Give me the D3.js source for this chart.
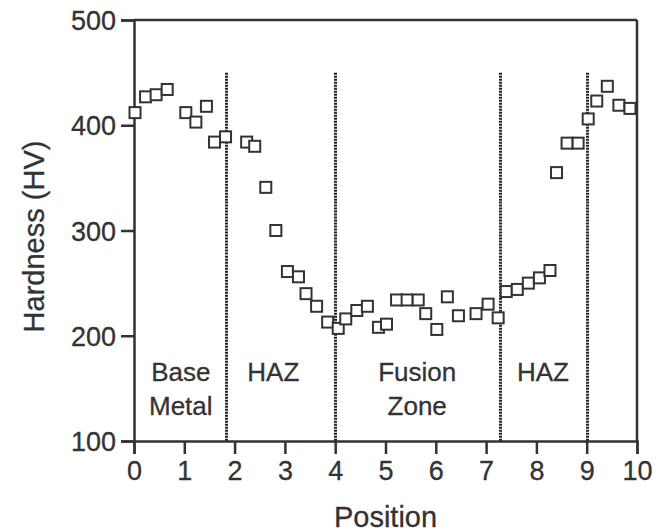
<!DOCTYPE html>
<html>
<head>
<meta charset="utf-8">
<script src="https://cdn.jsdelivr.net/npm/d3@7"></script>
<style>
  body { margin: 0; background: #fff; }
  svg text { font-family: "Liberation Sans", Arial, sans-serif; fill: #333; stroke: #333; stroke-width: 0.3px; }
</style>
</head>
<body>
<div id="chart"></div>
<script>
// hardness traverse across the weld
var positions = [0.02, 0.23, 0.44, 0.66, 1.03, 1.23, 1.44, 1.6, 1.82,
                 2.24, 2.4, 2.62, 2.82, 3.05, 3.27, 3.42, 3.63, 3.85, 4.06,
                 4.21, 4.43, 4.64, 4.86, 5.02, 5.22, 5.43, 5.65, 5.8, 6.02,
                 6.23, 6.45, 6.8, 7.04, 7.24, 7.4, 7.62, 7.84, 8.06, 8.27,
                 8.4, 8.61, 8.83, 9.03, 9.2, 9.41, 9.64, 9.86];
var hardness = [412, 427, 429, 434, 412, 403, 418, 384, 389,
                384, 380, 341, 300, 261, 256, 240, 228, 213, 207,
                216, 224, 228, 208, 211, 234, 234, 234, 221, 206,
                237, 219, 221, 230, 217, 242, 244, 250, 255, 262,
                355, 383, 383, 406, 423, 437, 419, 416];

// zone boundaries (dotted lines) and zone labels
var boundaries = [1.83, 4.0, 7.28, 9.0];
var boundaryTop = 450;
var zoneLabels = [["Base", "Metal"], ["HAZ"], ["Fusion", "Zone"], ["HAZ"]];
var zoneLabelX = [0.93, 2.77, 5.63, 8.13];

var xTicks = [0,1,2,3,4,5,6,7,8,9,10];
var yTicks = [100,200,300,400,500];

var margin = {top: 20, right: 31, bottom: 91, left: 134},
    width = 668 - margin.left - margin.right,
    height = 532 - margin.top - margin.bottom;

var data = positions.map(function(p, i){ return {pos: p, hv: hardness[i]}; });

var svg = d3.select("#chart")
            .append("svg")
            .attr("width", 668)
            .attr("height", 532)
            .append("g")
            .attr("transform", "translate(" + margin.left + "," + margin.top + ")");

var x = d3.scaleLinear().domain([0, 10]).range([0, width]);
var y = d3.scaleLinear().domain([100, 500]).range([height, 0]);

var ink = "#333";

// frame top + right
svg.append("line")
   .attr("x1", x(0)).attr("x2", x(10))
   .attr("y1", y(500)).attr("y2", y(500))
   .attr("stroke", ink).attr("stroke-width", 2.5);
svg.append("line")
   .attr("x1", x(10)).attr("x2", x(10))
   .attr("y1", y(500)).attr("y2", y(100))
   .attr("stroke", ink).attr("stroke-width", 2.5);

// axes
var xAxis = svg.append("g")
   .attr("class", "x_axis")
   .attr("transform", "translate(0," + height + ")")
   .call(d3.axisBottom(x).tickValues(xTicks).tickSize(13).tickPadding(3));

var yAxis = svg.append("g")
   .attr("class", "y_axis")
   .call(d3.axisLeft(y).tickValues(yTicks).tickSize(13).tickPadding(5));

[xAxis, yAxis].forEach(function(a){
    a.select(".domain").attr("stroke", ink).attr("stroke-width", 2.5);
    a.selectAll(".tick line").attr("stroke", ink).attr("stroke-width", 2.5);
    a.selectAll(".tick text")
     .attr("fill", ink)
     .style("font-size", "27px")
     .style("font-family", "'Liberation Sans', Arial, sans-serif");
});
xAxis.selectAll(".tick text").attr("dy", "0.85em");
yAxis.selectAll(".tick text").attr("dy", "0.36em");

// dotted zone boundaries
svg.append("g")
   .selectAll("line")
   .data(boundaries)
   .enter()
   .append("line")
   .attr("x1", function(d){ return Math.round(x(d)) + 0.5; })
   .attr("x2", function(d){ return Math.round(x(d)) + 0.5; })
   .attr("y1", y(boundaryTop))
   .attr("y2", y(100))
   .attr("stroke", "#222")
   .attr("stroke-width", 3)
   .attr("stroke-dasharray", "2,1");

// zone labels
var labels = svg.append("g")
   .selectAll("text")
   .data(zoneLabels)
   .enter()
   .append("text")
   .attr("x", function(d, i){ return x(zoneLabelX[i]); })
   .attr("y", y(166) + 9)
   .attr("text-anchor", "middle")
   .style("font-size", "26px");
labels.selectAll("tspan")
   .data(function(d){ return d; })
   .enter()
   .append("tspan")
   .attr("x", function(){ return d3.select(this.parentNode).attr("x"); })
   .attr("dy", function(d, i){ return i == 0 ? 0 : 34; })
   .text(function(d){ return d; });

// squares
var s = 11;
svg.append("g")
   .selectAll("rect")
   .data(data)
   .enter()
   .append("rect")
   .attr("x", function(d){ return x(d.pos) - s/2; })
   .attr("y", function(d){ return y(d.hv) - s/2; })
   .attr("width", s)
   .attr("height", s)
   .attr("fill", "#fff")
   .attr("stroke", ink)
   .attr("stroke-width", 2);

// axis titles
svg.append("text")
   .attr("x", width/2)
   .attr("y", height + 86)
   .attr("text-anchor", "middle")
   .style("font-size", "29px")
   .text("Position");

svg.append("text")
   .attr("transform", "translate(" + (-90) + "," + (height/2 + 6) + ") rotate(-90)")
   .attr("text-anchor", "middle")
   .style("font-size", "29px")
   .text("Hardness (HV)");
</script>
</body>
</html>
